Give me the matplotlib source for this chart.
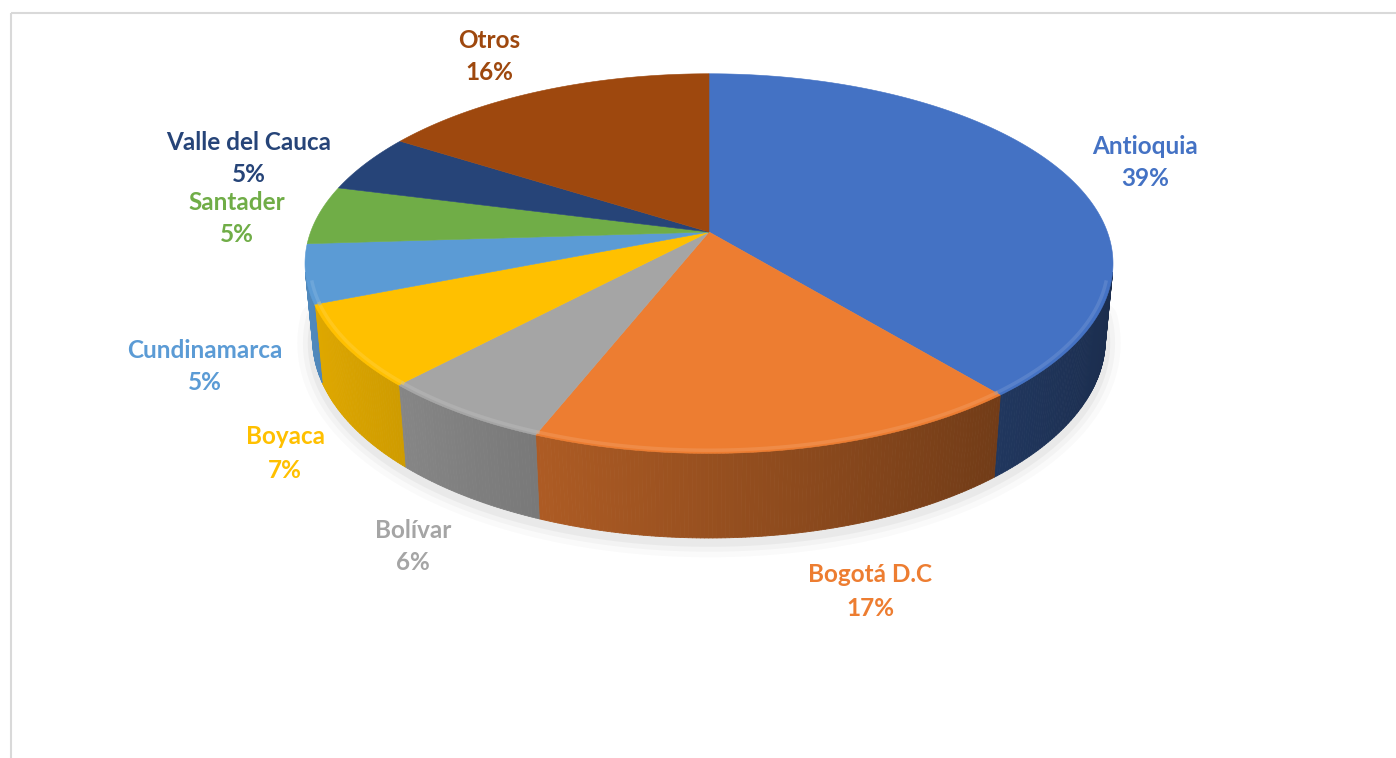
import numpy as np
import matplotlib.pyplot as plt
from matplotlib.collections import PolyCollection
from matplotlib.colors import to_rgb

# participación por departamento (%)
departamentos = ['Antioquia', 'Bogotá D.C', 'Bolívar', 'Boyaca',
                 'Cundinamarca', 'Santader', 'Valle del Cauca', 'Otros']
porcentajes = [39, 17, 6, 7, 5, 5, 5, 16]
colores = ['#4472C4', '#ED7D31', '#A5A5A5', '#FFC000',
           '#5B9BD5', '#70AD47', '#264478', '#9E480E']

# posición de las etiquetas (pixeles de la figura)
pos_etiquetas = [(1145, 146), (870, 575), (413, 530), (285, 437),
                 (205, 350), (237, 202), (249, 142), (489, 40)]

W, H = 1396, 758

# camara para el pastel en perspectiva
cx, cy = 709, 232
phi = np.radians(27.6)
s, c = np.sin(phi), np.cos(phi)
D = 6.01 * c
F = 404 * np.sqrt(D**2 - c**2)
grosor = 0.216


def proyectar(theta, r=1.0, z=0.0):
    # theta en grados, medido en sentido horario desde el fondo
    t = np.radians(theta)
    x = r * np.sin(t)
    y = r * np.cos(t)
    d = y * c - z * s + D
    X = x / d * F
    Y = (y * s + z * c) / d * F
    return cx + X, cy - Y


def sombra(theta):
    return min(1.0, 0.64 - 0.25 * np.sin(np.radians(theta)))


def aclarar(col, k):
    rgb = np.array(to_rgb(col))
    return tuple(rgb + (1 - rgb) * k)


fig = plt.figure(figsize=(W / 100, H / 100), dpi=100)
ax = fig.add_axes([0, 0, 1, 1])
ax.set_xlim(0, W)
ax.set_ylim(H, 0)
ax.axis('off')

# marco del grafico
ax.add_patch(plt.Rectangle((11, 13), W + 50, H + 50, fill=False,
                           edgecolor='#D9D9D9', linewidth=1.5))

fin = np.cumsum(porcentajes) / np.sum(porcentajes) * 360
inicio = np.concatenate([[0], fin[:-1]])

# la pared lateral solo se ve donde la normal mira a la camara
lim = np.degrees(np.arccos(-1 / (D * c)))
vis_a, vis_b = lim, 360 - lim

# sombra suave bajo el pastel
tt = np.linspace(vis_a - 10, vis_b + 10, 300)
bx, by = proyectar(tt, 1.0, -grosor)
for lw, a in [(22, 0.035), (14, 0.05), (7, 0.07)]:
    ax.plot(bx, by + 4, color='0.45', alpha=a, lw=lw,
            solid_capstyle='round', zorder=1)

# paredes laterales
polys, cols = [], []
for a, b, col in zip(inicio, fin, colores):
    a2, b2 = max(a, vis_a), min(b, vis_b)
    if a2 >= b2:
        continue
    n = max(2, int((b2 - a2) / 0.5))
    ts = np.linspace(a2, b2, n + 1)
    rgb = np.array(to_rgb(col))
    for t0, t1 in zip(ts[:-1], ts[1:]):
        x0, y0 = proyectar(t0)
        x1, y1 = proyectar(t1)
        x2, y2 = proyectar(t1, 1.0, -grosor)
        x3, y3 = proyectar(t0, 1.0, -grosor)
        polys.append([(x0, y0), (x1, y1), (x2, y2), (x3, y3)])
        cols.append(tuple(rgb * sombra((t0 + t1) / 2)))
ax.add_collection(PolyCollection(polys, facecolors=cols, edgecolors=cols,
                                 linewidths=0.6, zorder=2))

# cara superior
for a, b, col in zip(inicio, fin, colores):
    ts = np.linspace(a, b, max(3, int(b - a) * 2))
    xs, ys = proyectar(ts)
    ax.fill(np.r_[cx, xs], np.r_[cy, ys], color=col, lw=0.4,
            ec=col, zorder=3)

# brillo del bisel en el borde frontal
for a, b, col in zip(inicio, fin, colores):
    a2, b2 = max(a, vis_a + 3), min(b, vis_b - 3)
    if a2 >= b2:
        continue
    ts = np.linspace(a2, b2, 80)
    xs, ys = proyectar(ts, 0.988)
    ax.plot(xs, ys, color=aclarar(col, 0.22), lw=2.5, alpha=0.5, zorder=4)

# etiquetas
for nombre, v, col, (lx, ly) in zip(departamentos, porcentajes, colores,
                                     pos_etiquetas):
    ax.text(lx, ly, nombre, color=col, fontsize=17.5, fontweight='bold',
            family=['Lato', 'DejaVu Sans'], ha='center', va='center')
    ax.text(lx, ly + 33, f'{v}%', color=col, fontsize=17.5,
            fontweight='bold', family=['Lato', 'DejaVu Sans'],
            ha='center', va='center')

fig.savefig('out.png', dpi=100)
